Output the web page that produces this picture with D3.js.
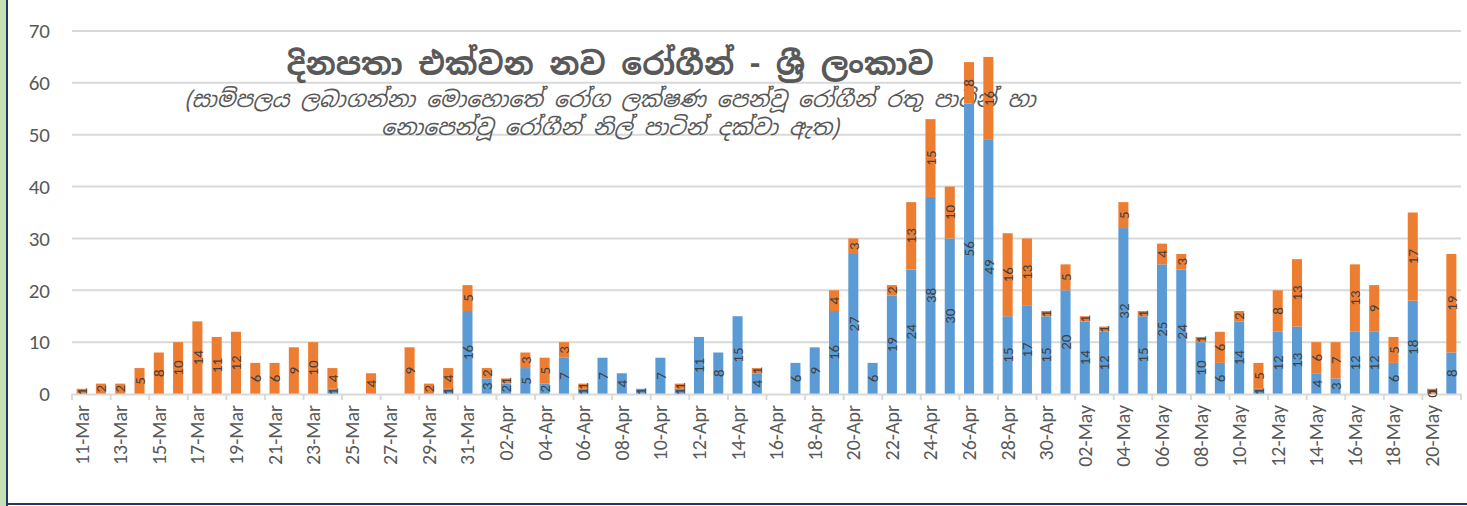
<!DOCTYPE html>
<html>
<head>
<meta charset="utf-8">
<script src="https://cdn.jsdelivr.net/npm/d3@7"></script>
<style>
	body { margin: 0; background: #fff; }
	svg { display: block; }
</style>
</head>
<body>
<script>
// days from 11-Mar to 21-May
var days = [
	"11-Mar","12-Mar","13-Mar","14-Mar","15-Mar","16-Mar","17-Mar","18-Mar","19-Mar","20-Mar",
	"21-Mar","22-Mar","23-Mar","24-Mar","25-Mar","26-Mar","27-Mar","28-Mar","29-Mar","30-Mar","31-Mar",
	"01-Apr","02-Apr","03-Apr","04-Apr","05-Apr","06-Apr","07-Apr","08-Apr","09-Apr","10-Apr",
	"11-Apr","12-Apr","13-Apr","14-Apr","15-Apr","16-Apr","17-Apr","18-Apr","19-Apr","20-Apr",
	"21-Apr","22-Apr","23-Apr","24-Apr","25-Apr","26-Apr","27-Apr","28-Apr","29-Apr","30-Apr",
	"01-May","02-May","03-May","04-May","05-May","06-May","07-May","08-May","09-May","10-May",
	"11-May","12-May","13-May","14-May","15-May","16-May","17-May","18-May","19-May","20-May","21-May"
];

// blue = no symptoms when sampled, null = no value
var noSymptoms = [
	null,null,null,null,null,null,null,null,null,null,
	null,null,null,1,null,null,null,null,null,1,16,
	3,2,5,2,7,1,7,4,1,7,
	1,11,8,15,4,null,6,9,16,27,
	6,19,24,38,30,56,49,15,17,15,
	20,14,12,32,15,25,24,10,6,14,
	1,12,13,4,3,12,12,6,18,0,8
];

// orange = symptoms when sampled
var withSymptoms = [
	1,2,2,5,8,10,14,11,12,6,
	6,9,10,4,null,4,null,9,2,4,5,
	2,1,3,5,3,1,null,null,null,null,
	1,null,null,null,1,null,null,null,4,3,
	null,2,13,15,10,8,16,16,13,1,
	5,1,1,5,1,4,3,1,6,2,
	5,8,13,6,7,13,9,5,17,1,19
];

var yTicks = [0, 10, 20, 30, 40, 50, 60, 70];

var titleText = "දිනපතා එක්වන නව රෝගීන් - ශ්‍රී ලංකාව";
var subLines = [
	"(සාම්පලය ලබාගන්නා මොහොතේ රෝග ලක්ෂණ පෙන්වූ රෝගීන් රතු පාටින් හා",
	"නොපෙන්වූ රෝගීන් නිල් පාටින් දක්වා ඇත)"
];

var width = 1467;
var height = 506;
var blue = "#5b9bd5";
var orange = "#ed7d31";
var font = "Calibri, Carlito, Lato, 'Open Sans', sans-serif";
var sinhala = "'Iskoola Pota', 'Noto Sans Sinhala', 'Noto Serif Sinhala', 'Abhaya Libre', sans-serif";

var rows = days.map(function(d, i){
	var b = noSymptoms[i] == null ? 0 : noSymptoms[i];
	var o = withSymptoms[i] == null ? 0 : withSymptoms[i];
	return {day: d, i: i, blue: noSymptoms[i], orange: withSymptoms[i], b: b, o: o};
});

var svg = d3.select("body").append("svg")
	.attr("width", width)
	.attr("height", height);

// frame: green strip and navy border
svg.append("rect").attr("x", 0).attr("y", 0).attr("width", 6).attr("height", height).attr("fill", "#c5e0b4");
svg.append("line").attr("x1", 7).attr("x2", 7).attr("y1", 0).attr("y2", height).attr("stroke", "#1f3864").attr("stroke-width", 2);
svg.append("line").attr("x1", 6).attr("x2", width).attr("y1", 504).attr("y2", 504).attr("stroke", "#1f3864").attr("stroke-width", 2);

var x = d3.scaleBand()
	.domain(days)
	.range([72, 1461])
	.paddingInner(0.48)
	.paddingOuter(0.24);

var y = d3.scaleLinear()
	.domain([0, 70])
	.range([394, 31]);

// gridlines
svg.append("g")
	.selectAll("line")
	.data(yTicks.slice(1))
	.enter()
		.append("line")
		.attr("x1", 72)
		.attr("x2", 1461)
		.attr("y1", function(d){return y(d)})
		.attr("y2", function(d){return y(d)})
		.attr("stroke", "#d9d9d9")
		.attr("stroke-width", 2);

// y axis labels
var yAxis = d3.axisLeft(y)
	.tickValues(yTicks)
	.tickSize(0)
	.tickPadding(20);

var yg = svg.append("g")
	.attr("transform", "translate(70,0)")
	.call(yAxis);
yg.select(".domain").remove();
yg.selectAll("text")
	.attr("font-family", font)
	.attr("font-size", "21px")
	.attr("fill", "#595959");

// title
svg.append("text")
	.attr("x", 610)
	.attr("y", 75)
	.attr("text-anchor", "middle")
	.attr("font-family", sinhala)
	.attr("font-weight", "bold")
	.attr("font-size", "31px")
	.attr("fill", "#595959")
	.text(titleText);

svg.selectAll("text.sub")
	.data(subLines)
	.enter()
		.append("text")
		.attr("class", "sub")
		.attr("x", 610)
		.attr("y", function(d, i){return 107 + i * 28})
		.attr("text-anchor", "middle")
		.attr("font-family", sinhala)
		.attr("font-style", "italic")
		.attr("font-size", "22px")
		.attr("fill", "#595959")
		.text(function(d){return d});

// bars
var barG = svg.append("g");

barG.selectAll("rect.blue")
	.data(rows.filter(function(d){return d.b > 0}))
	.enter()
		.append("rect")
		.attr("class", "blue")
		.attr("x", function(d){return x(d.day)})
		.attr("width", x.bandwidth())
		.attr("y", function(d){return y(d.b)})
		.attr("height", function(d){return y(0) - y(d.b)})
		.attr("fill", blue);

barG.selectAll("rect.orange")
	.data(rows.filter(function(d){return d.o > 0}))
	.enter()
		.append("rect")
		.attr("class", "orange")
		.attr("x", function(d){return x(d.day)})
		.attr("width", x.bandwidth())
		.attr("y", function(d){return y(d.b + d.o)})
		.attr("height", function(d){return y(d.b) - y(d.b + d.o)})
		.attr("fill", orange);

// x axis
var xAxis = d3.axisBottom(x)
	.tickValues(days.filter(function(d, i){return i % 2 == 0}))
	.tickSize(0)
	.tickPadding(12);

var xg = svg.append("g")
	.attr("transform", "translate(0,394)")
	.call(xAxis);
xg.select(".domain").attr("stroke", "#d9d9d9").attr("stroke-width", 2);
xg.selectAll("text")
	.attr("font-family", font)
	.attr("font-size", "20px")
	.attr("fill", "#595959")
	.attr("transform", "rotate(-90)")
	.attr("text-anchor", "end")
	.attr("dy", "0.35em")
	.attr("x", -11)
	.attr("y", 0);

// tick marks at every second category boundary
var bounds = d3.range(0, days.length + 1, 2).map(function(i){return 72 + i * (1389 / days.length)});
xg.selectAll("line.mark")
	.data(bounds)
	.enter()
		.append("line")
		.attr("class", "mark")
		.attr("x1", function(d){return d})
		.attr("x2", function(d){return d})
		.attr("y1", 0)
		.attr("y2", 6)
		.attr("stroke", "#d9d9d9")
		.attr("stroke-width", 2);

// data labels
function addLabels(key, base){
	svg.append("g").selectAll("text")
		.data(rows.filter(function(d){return d[key] != null}))
		.enter()
			.append("text")
			.attr("font-family", font)
			.attr("font-size", "15px")
			.attr("fill", "#404040")
			.attr("text-anchor", "middle")
			.attr("dy", "0.35em")
			.attr("transform", function(d){
				var lo = base(d);
				var hi = lo + d[key];
				var cy = (y(lo) + y(hi)) / 2;
				var cx = x(d.day) + x.bandwidth() / 2;
				return "translate(" + cx + "," + cy + ") rotate(-90)";
			})
			.text(function(d){return d[key]});
}
addLabels("blue", function(d){return 0});
addLabels("orange", function(d){return d.b});
</script>
</body>
</html>
